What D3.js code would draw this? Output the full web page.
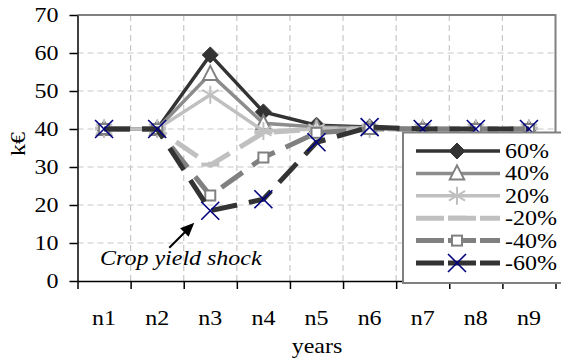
<!DOCTYPE html>
<html>
<head>
<meta charset="utf-8">
<script src="https://cdn.jsdelivr.net/npm/d3@7"></script>
<style>
  body { margin: 0; background: #fff; }
  text { font-family: "Liberation Serif", "Times New Roman", serif; fill: #000; }
</style>
</head>
<body>
<div id="chart"></div>
<script>
let categories = ['n1', 'n2', 'n3', 'n4', 'n5', 'n6', 'n7', 'n8', 'n9']
let seriesNames = ['60%', '40%', '20%', '-20%', '-40%', '-60%']
let v60 = [40, 40, 59.5, 44.5, 41, 40.5, 40, 40, 40]
let v40 = [40, 40, 54.5, 41.5, 40.5, 40.3, 40, 40, 40]
let v20 = [40, 40, 49, 39.5, 40, 40, 40, 40, 40]
let vm20 = [40, 40, 30.5, 39, 40, 40, 40, 40, 40]
let vm40 = [40, 40, 22.5, 32.5, 39, 40, 40, 40, 40]
let vm60 = [40, 40, 18.5, 21.5, 36.5, 40.5, 40, 40, 40]
let yTicks = [0, 10, 20, 30, 40, 50, 60, 70]

let width = 561, height = 361
let plot = { left: 77.5, right: 555.5, top: 15, bottom: 281 }
let stretchX = 1.2

let svg = d3.select('#chart')
.append('svg')
.attr('width', width)
.attr('height', height)

let x = d3.scaleBand()
.domain(categories)
.range([plot.left, plot.right])

let idx = d3.scaleLinear()
.domain([0, categories.length])
.range([plot.left, plot.right])

let y = d3.scaleLinear()
.domain([0, 70])
.range([plot.bottom, plot.top])

let cx = d => x(d) + x.bandwidth() / 2

// keep glyph anchor fixed while widening the text like the original
function stretch(sel) {
	sel.each(function() {
		let b = this.getBBox()
		let a = d3.select(this).attr('text-anchor') || getComputedStyle(this).textAnchor
		let ax = a == 'end' ? b.x + b.width : a == 'middle' ? b.x + b.width / 2 : b.x
		let old = d3.select(this).attr('transform') || ''
		d3.select(this).attr('transform', `${old} translate(${ax},0) scale(${stretchX},1) translate(${-ax},0)`)
	})
}

// grid
svg.append('g')
.selectAll('line')
.data(yTicks.filter(t => t > 0 && t < 70))
.join('line')
.attr('x1', plot.left)
.attr('x2', plot.right)
.attr('y1', d => y(d))
.attr('y2', d => y(d))
.attr('stroke', '#c8c8c8')
.attr('stroke-width', 1.2)
.attr('stroke-dasharray', '6,4')

svg.append('g')
.selectAll('line')
.data(d3.range(1, categories.length))
.join('line')
.attr('x1', d => idx(d))
.attr('x2', d => idx(d))
.attr('y1', plot.top)
.attr('y2', plot.bottom)
.attr('stroke', '#c8c8c8')
.attr('stroke-width', 1.2)
.attr('stroke-dasharray', '6,4')

// plot border top / right
svg.append('path')
.attr('d', `M${plot.left},${plot.top}H${plot.right}V${plot.bottom}`)
.attr('fill', 'none')
.attr('stroke', '#808080')
.attr('stroke-width', 2)

// axes
let yAxis = svg.append('g')
.attr('transform', `translate(${plot.left},0)`)
.call(d3.axisLeft(y).tickValues(yTicks).tickSize(8).tickSizeOuter(0).tickPadding(11))
yAxis.select('.domain').attr('stroke', '#000').attr('stroke-width', 1.5)
yAxis.selectAll('.tick line').attr('stroke', '#000').attr('stroke-width', 1.5)
yAxis.selectAll('text').attr('font-size', 20).attr('font-family', null)

let xTickAxis = svg.append('g')
.attr('transform', `translate(0,${plot.bottom})`)
.call(d3.axisBottom(idx).tickValues(d3.range(0, categories.length + 1)).tickFormat('').tickSize(8).tickSizeOuter(0))
xTickAxis.select('.domain').attr('stroke', '#000').attr('stroke-width', 1.5)
xTickAxis.selectAll('.tick line').attr('stroke', '#000').attr('stroke-width', 1.5)

let xAxis = svg.append('g')
.attr('transform', `translate(0,${plot.bottom})`)
.call(d3.axisBottom(x).tickSize(0).tickPadding(30))
xAxis.select('.domain').remove()
xAxis.selectAll('text').attr('font-size', 20).attr('font-family', null)

stretch(yAxis.selectAll('text'))
stretch(xAxis.selectAll('text'))

let xTitle = svg.append('text')
.attr('x', 317)
.attr('y', 353)
.attr('text-anchor', 'middle')
.attr('font-size', 20)
.text('years')
stretch(xTitle)

svg.append('text')
.attr('transform', 'translate(25,144) rotate(-90) scale(1.2,1)')
.attr('text-anchor', 'middle')
.attr('font-size', 20)
.text('k€')

// markers
function marker(g, type, s) {
	if (type == 'diamond') {
		g.append('path').attr('d', `M0,${-s}L${s},0L0,${s}L${-s},0Z`)
		.attr('fill', '#333').attr('stroke', '#333').attr('stroke-width', 1)
	} else if (type == 'triangle') {
		g.append('path').attr('d', `M0,${-s}L${s * 0.9},${s * 0.75}L${-s * 0.9},${s * 0.75}Z`)
		.attr('fill', '#fff').attr('stroke', '#808080').attr('stroke-width', 2)
	} else if (type == 'star') {
		let r = s * 0.9
		g.append('path').attr('d', `M0,${-s}V${s}M${-r},${-r * 0.6}L${r},${r * 0.6}M${-r},${r * 0.6}L${r},${-r * 0.6}`)
		.attr('stroke', '#c0c0c0').attr('stroke-width', 2)
	} else if (type == 'dash') {
		g.append('rect').attr('x', -s).attr('y', -2.5).attr('width', 2 * s).attr('height', 4)
		.attr('fill', '#c0c0c0')
	} else if (type == 'square') {
		g.append('rect').attr('x', -s / 2).attr('y', -s / 2).attr('width', s).attr('height', s)
		.attr('fill', '#fff').attr('stroke', '#808080').attr('stroke-width', 2)
	} else if (type == 'x') {
		g.append('path').attr('d', `M${-s},${-s}L${s},${s}M${-s},${s}L${s},${-s}`)
		.attr('stroke', '#000080').attr('stroke-width', 1.6)
	}
}

let series = [
	{ name: seriesNames[0], values: v60, color: '#333333', width: 3.5, dash: null, marker: 'diamond', size: 8 },
	{ name: seriesNames[1], values: v40, color: '#8c8c8c', width: 3.5, dash: null, marker: 'triangle', size: 8 },
	{ name: seriesNames[2], values: v20, color: '#c0c0c0', width: 3.5, dash: null, marker: 'star', size: 9 },
	{ name: seriesNames[3], values: vm20, color: '#c0c0c0', width: 5, dash: '26,12', marker: 'dash', size: 9 },
	{ name: seriesNames[4], values: vm40, color: '#808080', width: 5, dash: '26,12', marker: 'square', size: 10 },
	{ name: seriesNames[5], values: vm60, color: '#333333', width: 5, dash: '26,12', marker: 'x', size: 9 }
]

let line = d3.line()
.x((d, i) => cx(categories[i]))
.y(d => y(d))

let groups = svg.selectAll('.series')
.data(series)
.join('g')
.attr('class', 'series')

groups.append('path')
.attr('d', d => line(d.values))
.attr('fill', 'none')
.attr('stroke', d => d.color)
.attr('stroke-width', d => d.width)
.attr('stroke-dasharray', d => d.dash)

groups.each(function(s) {
	let g = d3.select(this)
	s.values.forEach((v, i) => {
		let m = g.append('g').attr('transform', `translate(${cx(categories[i])},${y(v)})`)
		marker(m, s.marker, s.size)
	})
})

// annotation
let shockX = cx('n3'), shockY = y(vm60[2])
let tip = [shockX - 16, shockY + 12]
let tail = [shockX - 41, shockY + 37]
svg.append('line')
.attr('x1', tail[0]).attr('y1', tail[1])
.attr('x2', tip[0] - 6).attr('y2', tip[1] + 6)
.attr('stroke', '#000')
.attr('stroke-width', 2)
let ang = Math.atan2(tip[1] - tail[1], tip[0] - tail[0])
let hl = 14, hw = 6
let base = [tip[0] - hl * Math.cos(ang), tip[1] - hl * Math.sin(ang)]
svg.append('path')
.attr('d', `M${tip[0]},${tip[1]}L${base[0] + hw * Math.sin(ang)},${base[1] - hw * Math.cos(ang)}L${base[0] - hw * Math.sin(ang)},${base[1] + hw * Math.cos(ang)}Z`)
.attr('fill', '#000')

let note = svg.append('text')
.attr('x', 100)
.attr('y', 265)
.attr('font-size', 20)
.attr('font-style', 'italic')
.text('Crop yield shock')
stretch(note)

// legend
let legend = svg.append('g')
svg.append('rect')
legend.append('rect')
.attr('x', 403)
.attr('y', 132.5)
.attr('width', 170)
.attr('height', 150.5)
.attr('fill', '#fff')
.attr('stroke', '#808080')
.attr('stroke-width', 2)

let rowY = d3.scaleLinear().domain([0, 5]).range([151, 263])

let rows = legend.selectAll('.row')
.data(series)
.join('g')
.attr('class', 'row')
.attr('transform', (d, i) => `translate(0,${rowY(i)})`)

rows.append('line')
.attr('x1', 416)
.attr('x2', 500)
.attr('stroke', d => d.color)
.attr('stroke-width', d => d.width)
.attr('stroke-dasharray', d => d.dash ? '28,4' : null)

rows.each(function(s) {
	let m = d3.select(this).append('g').attr('transform', 'translate(457,0)')
	marker(m, s.marker, s.size)
})

let labels = rows.append('text')
.attr('x', 505)
.attr('y', 7)
.attr('font-size', 20)
.text(d => d.name)
stretch(labels)
</script>
</body>
</html>
